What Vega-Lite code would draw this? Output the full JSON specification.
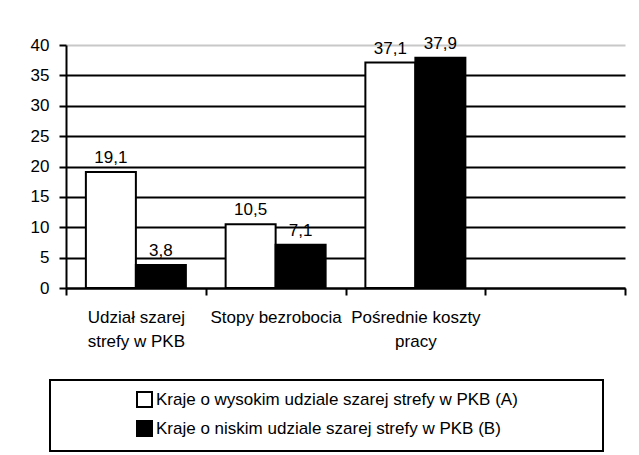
{
  "$schema": "https://vega.github.io/schema/vega-lite/v6.json",
  "width": 559,
  "height": 243,
  "autosize": {"type": "none"},
  "padding": {"left": 66, "top": 45, "right": 14, "bottom": 167},
  "background": "white",
  "data": {
    "values": [
      {"kategoria": "Udział szarej|strefy w PKB", "seria": "Kraje o wysokim udziale szarej strefy w PKB (A)", "wartosc": 19.1},
      {"kategoria": "Udział szarej|strefy w PKB", "seria": "Kraje o niskim udziale szarej strefy w PKB (B)", "wartosc": 3.8},
      {"kategoria": "Stopy bezrobocia", "seria": "Kraje o wysokim udziale szarej strefy w PKB (A)", "wartosc": 10.5},
      {"kategoria": "Stopy bezrobocia", "seria": "Kraje o niskim udziale szarej strefy w PKB (B)", "wartosc": 7.1},
      {"kategoria": "Pośrednie koszty|pracy", "seria": "Kraje o wysokim udziale szarej strefy w PKB (A)", "wartosc": 37.1},
      {"kategoria": "Pośrednie koszty|pracy", "seria": "Kraje o niskim udziale szarej strefy w PKB (B)", "wartosc": 37.9}
    ]
  },
  "transform": [
    {"calculate": "replace(format(datum.wartosc, '.1f'), '.', ',')", "as": "etykieta"}
  ],
  "encoding": {
    "x": {
      "field": "kategoria",
      "type": "nominal",
      "sort": null,
      "scale": {
        "domain": ["Udział szarej|strefy w PKB", "Stopy bezrobocia", "Pośrednie koszty|pracy", "_"],
        "paddingInner": 0,
        "paddingOuter": 0
      },
      "axis": {
        "title": null,
        "labelAngle": 0,
        "labelExpr": "datum.value == '_' ? '' : split(datum.label, '|')",
        "labelFont": "Liberation Sans",
        "labelFontSize": 17,
        "labelColor": "black",
        "labelLineHeight": 24,
        "labelBaseline": "top",
        "labelPadding": 14,
        "tickBand": "extent",
        "tickSize": 7,
        "tickWidth": 2,
        "tickColor": "black",
        "domainColor": "black",
        "domainWidth": 2,
        "grid": false,
        "labelLimit": 200
      }
    },
    "xOffset": {
      "field": "seria",
      "type": "nominal",
      "sort": ["Kraje o wysokim udziale szarej strefy w PKB (A)", "Kraje o niskim udziale szarej strefy w PKB (B)"],
      "scale": {"paddingInner": 0, "paddingOuter": 0.3975}
    },
    "y": {
      "field": "wartosc",
      "type": "quantitative",
      "scale": {"domain": [0, 40], "nice": false},
      "axis": {
        "title": null,
        "values": [0, 5, 10, 15, 20, 25, 30, 35, 40],
        "labelFont": "Liberation Sans",
        "labelFontSize": 17,
        "labelColor": "black",
        "labelPadding": 10,
        "tickSize": 7,
        "tickWidth": 2,
        "tickColor": "black",
        "domainColor": "black",
        "domainWidth": 2,
        "grid": true,
        "gridColor": {"condition": {"test": "datum.value == 40", "value": "#c8c8c8"}, "value": "black"},
        "gridWidth": 2,
        "gridOpacity": 1
      }
    }
  },
  "layer": [
    {
      "mark": {"type": "bar", "stroke": "black", "strokeWidth": 2},
      "encoding": {
        "color": {
          "field": "seria",
          "type": "nominal",
          "scale": {
            "domain": ["Kraje o wysokim udziale szarej strefy w PKB (A)", "Kraje o niskim udziale szarej strefy w PKB (B)"],
            "range": ["white", "black"]
          },
          "legend": {
            "title": "\u00a0",
            "titleOrient": "right",
            "titlePadding": 74,
            "titleFontSize": 10,
            "orient": "none",
            "legendX": -16,
            "legendY": 335,
            "direction": "vertical",
            "strokeColor": "black",
            "fillColor": "white",
            "padding": 11,
            "symbolOffset": 75,
            "symbolType": "square",
            "symbolSize": 225,
            "symbolStrokeColor": "black",
            "symbolStrokeWidth": 2,
            "symbolOpacity": 1,
            "labelFont": "Liberation Sans",
            "labelFontSize": 17,
            "labelColor": "black",
            "labelOffset": 3,
            "labelLimit": 600,
            "rowPadding": 6,
            "encode": {
              "legend": {"update": {"strokeWidth": {"value": 2}}}
            }
          }
        }
      }
    },
    {
      "mark": {"type": "text", "baseline": "alphabetic", "dy": -9, "font": "Liberation Sans", "fontSize": 17, "color": "black"},
      "encoding": {
        "text": {"field": "etykieta", "type": "nominal"}
      }
    }
  ],
  "config": {
    "view": {"stroke": null}
  }
}
